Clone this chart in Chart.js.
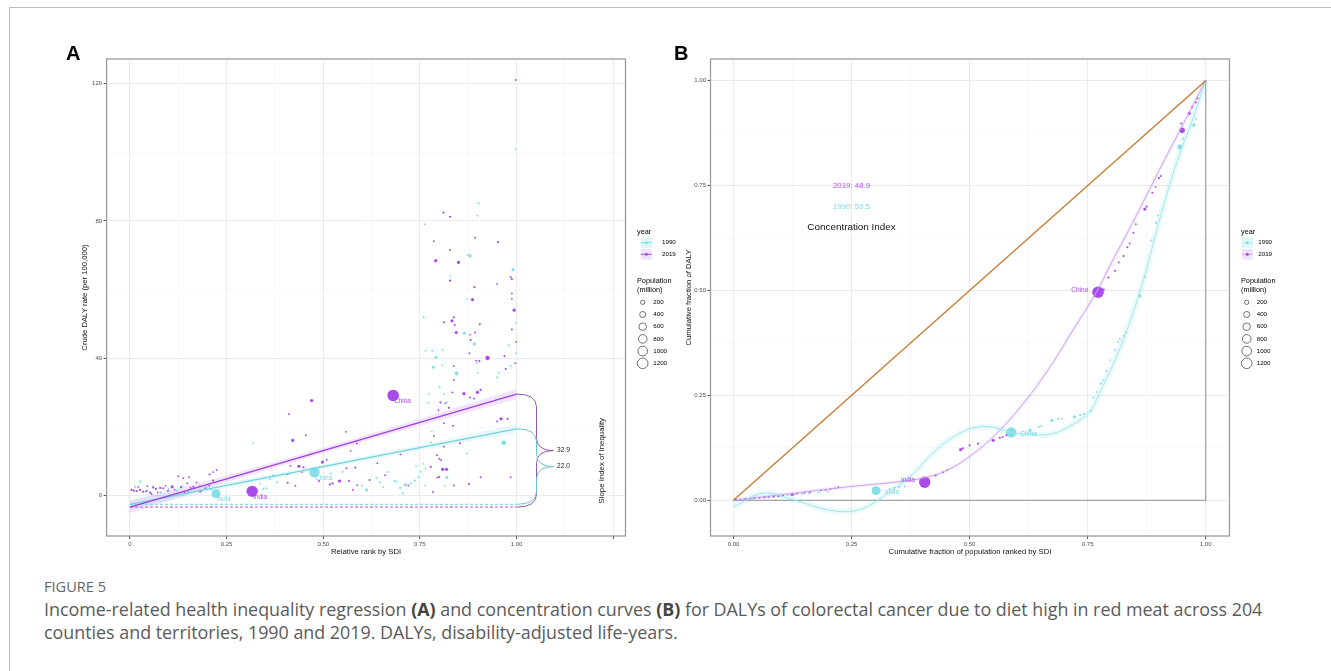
<!DOCTYPE html>
<html>
<head>
<meta charset="utf-8">
<script src="https://cdn.jsdelivr.net/npm/chart.js@4.4.1/dist/chart.umd.min.js"></script>
<style>
html,body{margin:0;padding:0;background:#fff;width:1331px;height:671px;overflow:hidden;}
#frame{position:absolute;left:9px;top:7px;width:1340px;height:700px;border-left:1.5px solid #bdbdbd;border-top:1.5px solid #bdbdbd;}
#cA{position:absolute;left:0;top:0;}
#cB{position:absolute;left:660px;top:0;}
#fig{position:absolute;left:44px;top:577px;font-family:"Open Sans",sans-serif;font-size:14px;line-height:19px;color:#666;white-space:nowrap;}
#cap{position:absolute;left:44px;top:598px;font-family:"Open Sans",sans-serif;font-size:17px;line-height:23px;color:#5a5a5a;white-space:nowrap;}
#cap b{color:#444;font-weight:700;}
</style>
</head>
<body>
<div id="frame"></div>
<canvas id="cA" width="700" height="570"></canvas>
<canvas id="cB" width="671" height="570"></canvas>
<div id="fig"><span id="figt">FIGURE 5</span></div>
<div id="cap"><span id="cap1">Income-related health inequality regression <b>(A)</b> and concentration curves <b>(B)</b> for DALYs of colorectal cancer due to diet high in red meat across 204</span><br><span>counties and territories, 1990 and 2019. DALYs, disability-adjusted life-years.</span></div>
<script>
// ================= DATA =================
const yearLabels = ['1990', '2019'];
const popLegend = [200, 400, 600, 800, 1000, 1200];

// ---- Panel A: [relative rank by SDI, crude DALY rate per 100,000, population (million), label]
const a2019 = [
 [0.004,1.7,50],[0.010,1.5,50],[0.017,1.4,50],[0.021,2.6,8],[0.026,1.7,50],[0.034,1.2,50],[0.043,1.4,50],[0.045,2.8,8],
 [0.052,0.9,50],[0.056,0.5,8],[0.060,2.4,50],[0.067,2.0,50],[0.072,1.0,8],[0.078,2.3,50],[0.086,2.2,50],[0.092,2.9,8],
 [0.098,1.4,50],[0.109,2.6,110],[0.115,1.8,8],[0.125,5.7,8],[0.132,2.5,50],[0.138,5.1,8],[0.141,1.0,50],[0.148,3.6,8],
 [0.153,5.4,8],[0.157,2.3,8],[0.164,2.6,50],[0.172,3.9,8],[0.182,1.4,110],[0.195,2.2,8],[0.205,2.9,8],[0.206,6.2,50],
 [0.215,4.4,50],[0.215,6.9,8],[0.224,7.5,8],
 [0.316,1.3,1380,'India'],
 [0.408,6.3,8],[0.408,3.8,50],[0.411,23.8,8],[0.415,8.7,8],[0.421,16.1,110],[0.428,2.9,8],[0.437,8.6,110],[0.445,6.9,8],
 [0.449,8.3,50],[0.455,17.6,8],[0.470,27.7,110],[0.489,4.3,50],[0.498,9.8,110],[0.509,10.5,8],[0.517,3.3,50],[0.524,3.6,50],
 [0.542,4.3,110],[0.559,18.6,8],[0.560,8.0,8],[0.567,4.3,50],[0.571,13.0,8],[0.577,1.7,8],[0.583,8.2,50],[0.587,15.2,8],
 [0.588,3.1,8],[0.620,4.6,50],[0.640,9.5,8],[0.660,6.0,8],
 [0.681,29.2,1430,'China'],
 [0.700,12.0,8],[0.720,3.0,8],
 [0.778,8.4,50],[0.784,1.1,8],[0.786,17.4,8],[0.786,74.1,8],[0.791,68.4,110],[0.794,11.8,8],[0.795,5.3,8],[0.798,24.9,8],
 [0.800,10.8,8],[0.800,5.5,50],[0.803,27.2,50],[0.805,10.4,8],[0.809,7.7,110],[0.811,82.4,50],[0.812,50.5,50],[0.812,21.1,8],
 [0.812,14.3,8],[0.816,26.9,8],[0.819,7.7,110],[0.825,25.6,50],[0.828,81.2,50],[0.828,71.5,8],[0.828,62.6,50],[0.833,50.9,110],
 [0.834,30.1,8],[0.836,20.4,8],[0.838,51.9,50],[0.838,37.8,8],[0.838,33.7,8],[0.838,3.0,8],[0.840,49.7,8],[0.844,47.5,110],
 [0.850,67.9,110],[0.854,15.3,50],[0.864,29.7,110],[0.877,3.4,50],[0.878,41.5,8],[0.880,46.9,8],[0.880,28.6,8],[0.881,45.3,50],
 [0.886,57.1,110],[0.890,28.3,8],[0.891,60.7,50],[0.893,75.1,8],[0.893,47.5,8],[0.896,39.3,8],[0.899,30.1,110],[0.904,39.2,50],
 [0.905,49.9,50],[0.907,30.8,50],[0.907,5.4,8],[0.925,40.1,200],[0.950,61.6,8],[0.950,21.6,8],[0.952,73.8,50],[0.960,22.4,110],
 [0.969,40.6,50],[0.972,36.9,50],[0.977,22.4,50],[0.985,63.6,50],[0.985,5.4,8],[0.988,63.0,50],[0.988,58.9,8],[0.988,57.3,8],
 [0.988,48.4,8],[0.994,54.0,110],[0.997,38.6,8],[0.998,121.0,8],[0.999,44.8,8]
];
const a1990 = [
 [0.013,2.6,50],[0.026,4.1,50],[0.040,1.2,50],[0.060,2.8,8],[0.080,1.0,50],[0.100,2.0,50],[0.120,1.5,8],[0.135,2.8,8],
 [0.150,1.2,50],[0.168,2.3,8],[0.180,3.0,8],[0.198,2.6,8],[0.210,1.8,50],
 [0.2225,0.6,870,'India'],
 [0.319,15.3,8],[0.330,1.6,8],[0.336,3.5,8],[0.345,2.0,50],[0.353,2.2,50],[0.362,4.9,8],[0.370,6.0,8],[0.380,4.0,8],
 [0.477,6.9,1150,'China'],
 [0.490,8.5,8],[0.520,6.5,8],[0.550,7.0,8],[0.600,3.0,8],[0.612,1.7,110],[0.638,5.1,50],[0.646,3.9,50],[0.655,2.5,8],
 [0.667,6.9,50],[0.684,4.3,50],[0.690,4.1,50],[0.699,2.3,50],[0.706,0.7,50],[0.712,3.2,110],[0.726,3.6,50],[0.737,4.4,50],
 [0.740,8.7,8],[0.747,5.5,50],[0.752,7.0,50],[0.759,9.3,8],[0.760,51.9,50],[0.763,79.0,50],[0.763,3.0,8],[0.765,42.2,50],
 [0.765,7.9,8],[0.772,27.0,8],[0.774,29.6,8],[0.779,15.5,8],[0.781,18.7,8],[0.782,42.2,50],[0.785,37.4,110],[0.792,40.3,110],
 [0.801,31.6,50],[0.808,38.0,8],[0.809,42.5,8],[0.813,29.7,8],[0.815,2.9,8],[0.820,27.2,8],[0.820,5.4,110],[0.829,64.0,8],
 [0.845,35.6,150],[0.865,47.3,110],[0.872,57.3,8],[0.872,12.3,8],[0.874,70.1,50],[0.880,69.8,110],[0.891,44.2,110],[0.898,38.5,50],
 [0.899,81.5,50],[0.900,35.8,8],[0.902,85.1,50],[0.950,34.4,50],[0.954,35.8,50],[0.967,15.4,250],[0.980,43.8,50],[0.985,37.8,8],
 [0.991,65.8,110],[0.998,101.0,8],[0.999,50.4,8],[0.999,41.5,8]
];
// regression lines and confidence bands (rank -> rate)
const siiX = [0, 0.25, 0.5, 0.75, 1];
const sii2019 = [-3.3, 4.93, 13.15, 21.38, 29.6];
const sii2019Hi = [-1.5, 5.9, 13.95, 22.4, 31.1];
const sii2019Lo = [-5.1, 3.9, 12.35, 20.4, 28.1];
const sii1990 = [-2.5, 3.0, 8.5, 14.0, 19.5];
const sii1990Hi = [-1.1, 3.8, 9.1, 14.8, 20.8];
const sii1990Lo = [-3.9, 2.2, 7.9, 13.2, 18.2];
const siiValues = ['22.0', '32.9'];   // 1990, 2019

// axes A
const aXMajor = [0, 0.25, 0.5, 0.75, 1.0, 1.25];
const aXLabels = ['0', '0.25', '0.50', '0.75', '1.00', ''];
const aXMinor = [0.125, 0.375, 0.625, 0.875, 1.125];
const aYMajor = [0, 40, 80, 120];
const aYLabels = ['0', '40', '80', '120'];
const aYMinor = [20, 60, 100];

// ---- Panel B: [cumulative fraction of population, cumulative fraction of DALY, population (million), label]
const b2019 = [
 [0.005,0.001,8],[0.015,0.002,8],[0.025,0.003,8],[0.035,0.004,8],[0.045,0.006,50],[0.055,0.006,8],[0.065,0.007,50],
 [0.075,0.008,8],[0.085,0.009,50],[0.095,0.010,8],[0.105,0.011,8],[0.124,0.014,110],[0.135,0.016,8],[0.150,0.018,50],
 [0.162,0.020,8],[0.185,0.024,50],[0.195,0.025,50],[0.205,0.027,8],[0.215,0.029,8],[0.222,0.031,8],
 [0.405,0.043,1380,'India'],
 [0.428,0.059,50],[0.444,0.067,50],[0.453,0.072,8],[0.481,0.121,110],[0.486,0.124,50],[0.500,0.131,50],[0.518,0.135,50],
 [0.550,0.143,110],[0.564,0.149,50],[0.570,0.151,8],[0.578,0.155,50],
 [0.772,0.496,1430,'China'],
 [0.784,0.502,50],[0.794,0.531,50],[0.808,0.547,50],[0.816,0.567,8],[0.826,0.582,50],[0.834,0.603,50],[0.839,0.612,8],
 [0.847,0.637,50],[0.852,0.658,8],[0.871,0.694,110],[0.875,0.700,50],[0.887,0.733,50],[0.894,0.747,8],[0.901,0.768,50],
 [0.905,0.773,8],[0.948,0.898,8],[0.950,0.882,330],[0.965,0.922,110],[0.971,0.937,50],[0.979,0.948,50],[0.983,0.958,8],
 [0.999,0.998,50]
];
const b1990 = [
 [0.010,0.001,8],[0.025,0.003,8],[0.040,0.004,50],[0.055,0.006,8],[0.070,0.008,50],[0.085,0.009,8],[0.100,0.011,50],
 [0.115,0.012,8],[0.130,0.014,50],[0.145,0.015,8],[0.160,0.017,8],[0.180,0.019,8],[0.200,0.021,8],
 [0.302,0.023,870,'India'],
 [0.331,0.027,50],[0.341,0.030,50],[0.351,0.032,50],[0.363,0.033,8],
 [0.588,0.162,1150,'China'],
 [0.628,0.167,110],[0.646,0.175,50],[0.652,0.177,8],[0.674,0.190,110],[0.688,0.194,50],[0.695,0.195,8],[0.722,0.199,110],
 [0.734,0.203,50],[0.742,0.206,50],[0.756,0.213,50],[0.762,0.245,50],[0.770,0.258,8],[0.778,0.278,50],[0.782,0.286,8],
 [0.790,0.308,50],[0.798,0.334,8],[0.808,0.358,50],[0.814,0.378,8],[0.818,0.384,8],[0.826,0.392,8],[0.832,0.400,8],
 [0.860,0.487,110],[0.871,0.533,50],[0.885,0.619,50],[0.895,0.661,50],[0.899,0.679,8],[0.945,0.842,250],[0.952,0.862,50],
 [0.975,0.894,110],[0.980,0.910,8],[1.000,1.000,8]
];
// smoothed concentration curves
const curve2019X = [0,0.128,0.25,0.347,0.412,0.46,0.509,0.557,0.614,0.671,0.719,0.768,0.8,0.85,0.9,0.95,1.0];
const curve2019Y = [0,0.017,0.033,0.044,0.056,0.076,0.112,0.159,0.231,0.319,0.406,0.495,0.565,0.672,0.783,0.892,1.0];
const curve1990X = [0,0.063,0.128,0.185,0.234,0.275,0.332,0.381,0.429,0.478,0.519,0.559,0.59,0.624,0.673,0.722,0.754,0.778,0.811,0.843,0.872,0.9,0.94,0.97,1.0];
const curve1990Y = [-0.016,0.017,0.001,-0.019,-0.027,-0.019,0.021,0.064,0.120,0.159,0.175,0.172,0.161,0.158,0.158,0.183,0.211,0.263,0.342,0.437,0.54,0.66,0.81,0.90,1.0];
const equalityX = [0, 1];
const equalityY = [0, 1];
const frameX = [0, 1, 1];
const frameY = [0, 0, 1];
const ciValues = ['1990: 59.5', '2019: 48.9'];
const ciTitle = 'Concentration Index';
const ciPosX = 0.25;
const ciPosY = [0.70, 0.75, 0.65];   // 1990 text, 2019 text, title

// axes B
const bMajor = [0, 0.25, 0.5, 0.75, 1.0];
const bLabels = ['0.00', '0.25', '0.50', '0.75', '1.00'];
const bMinor = [0.125, 0.375, 0.625, 0.875];

// ================= STYLE / HELPERS =================
const PURPLE = '#A94BEB', CYAN = '#84DFE8';
const FONT = '"Liberation Sans", Arial, Helvetica, sans-serif';
const RAD = p => Math.max(0.95, 0.153 * Math.sqrt(p));

const pts = arr => arr.map(d => ({x: d[0], y: d[1], pop: d[2], name: d[3]}));
const xy = (xs, ys) => xs.map((x, i) => ({x, y: ys[i]}));

function axis(pos, min, max, majors, labels, minors, size) {
  const all = majors.map(v => ({value: v, major: true})).concat(minors.map(v => ({value: v, major: false})))
    .sort((a, b) => a.value - b.value);
  return {
    type: 'linear', position: pos, min, max,
    afterBuildTicks: s => { s.ticks = all.map(t => ({value: t.value, major: t.major})); },
    afterFit: s => { if (pos === 'left') s.width = size; else s.height = size; },
    ticks: {
      autoSkip: false, maxRotation: 0, minRotation: 0, padding: 1.5,
      font: {family: FONT, size: 6}, color: '#4D4D4D',
      callback: v => { const k = majors.indexOf(v); return k >= 0 ? labels[k] : ''; }
    },
    grid: {
      color: c => (c.tick && c.tick.major) ? '#EBEBEB' : '#F5F5F5',
      lineWidth: c => (c.tick && c.tick.major) ? 1 : 0.7,
      tickColor: c => (c.tick && c.tick.major) ? '#555' : 'rgba(0,0,0,0)',
      tickLength: 3, drawTicks: true
    },
    border: {display: false}
  };
}

function text(ctx, s, x, y, o) {
  ctx.save();
  ctx.font = (o.weight || 'normal') + ' ' + o.size + 'px ' + FONT;
  ctx.fillStyle = o.color || '#000';
  ctx.textAlign = o.align || 'left';
  ctx.textBaseline = o.base || 'middle';
  if (o.rot) { ctx.translate(x, y); ctx.rotate(o.rot); ctx.fillText(s, 0, 0); }
  else ctx.fillText(s, x, y);
  ctx.restore();
}

function box(chart) {
  const {ctx, chartArea: a} = chart;
  ctx.save();
  ctx.strokeStyle = '#9C9C9C'; ctx.lineWidth = 1.3;
  ctx.strokeRect(a.left, a.top, a.right - a.left, a.bottom - a.top);
  ctx.restore();
}

function legend(ctx, L) {
  text(ctx, 'year', L.x, 232, {size: 7.3});
  const keys = [[yearLabels[0], CYAN, 'rgba(132,223,232,0.28)', 242.7], [yearLabels[1], PURPLE, 'rgba(169,75,235,0.16)', 254.3]];
  keys.forEach(([lab, col, bg, y]) => {
    ctx.save();
    ctx.fillStyle = bg; ctx.fillRect(L.kx - 5.5, y - 5.3, 11, 10.6);
    ctx.strokeStyle = col; ctx.globalAlpha = L.lineAlpha; ctx.lineWidth = 1;
    ctx.beginPath(); ctx.moveTo(L.kx - 5.5, y); ctx.lineTo(L.kx + 5.5, y); ctx.stroke();
    ctx.globalAlpha = 1; ctx.fillStyle = col;
    ctx.beginPath(); ctx.arc(L.kx, y, 1.5, 0, 2 * Math.PI); ctx.fill();
    ctx.restore();
    text(ctx, lab, L.lx, y, {size: 6.2});
  });
  text(ctx, 'Population', L.x, 280.7, {size: 7.3});
  text(ctx, '(million)', L.x, 289.5, {size: 7.3});
  popLegend.forEach((p, i) => {
    const y = 302.3 + i * 12.2;
    ctx.save(); ctx.strokeStyle = '#333'; ctx.lineWidth = 0.7;
    ctx.beginPath(); ctx.arc(L.cx, y, RAD(p), 0, 2 * Math.PI); ctx.stroke(); ctx.restore();
    text(ctx, String(p), L.clx, y, {size: 6.2});
  });
}

function brace(ctx, x0, yT, yB, color) {
  const xv = x0 + 20, xt = x0 + 37, yM = (yT + yB) / 2, r = Math.min(13, (yB - yT) / 4);
  ctx.save(); ctx.strokeStyle = color; ctx.lineWidth = 1;
  ctx.beginPath();
  ctx.moveTo(x0, yT);
  ctx.quadraticCurveTo(xv, yT, xv, yT + r);
  ctx.lineTo(xv, yM - r);
  ctx.quadraticCurveTo(xv, yM, xt, yM);
  ctx.quadraticCurveTo(xv, yM, xv, yM + r);
  ctx.lineTo(xv, yB - r);
  ctx.quadraticCurveTo(xv, yB, x0, yB);
  ctx.stroke(); ctx.restore();
  return yM;
}

function scatterDs(arr, color, order) {
  return {type: 'scatter', data: pts(arr), backgroundColor: color, borderWidth: 0,
    pointRadius: c => RAD(c.raw.pop), pointHoverRadius: c => RAD(c.raw.pop), order};
}
function lineDs(data, color, width, order, extra) {
  return Object.assign({type: 'line', data, borderColor: color, backgroundColor: color, borderWidth: width,
    pointRadius: 0, pointHoverRadius: 0, fill: false, tension: 0, order}, extra || {});
}

const common = {
  responsive: false, animation: false, devicePixelRatio: 1,
  plugins: {legend: {display: false}, tooltip: {enabled: false}},
  events: []
};

// ================= CHART A =================
new Chart(document.getElementById('cA'), {
  type: 'scatter',
  data: {datasets: [
    lineDs(xy(siiX, sii2019Hi), 'rgba(0,0,0,0)', 0, 4, {fill: '+1', backgroundColor: 'rgba(180,110,235,0.18)'}),
    lineDs(xy(siiX, sii2019Lo), 'rgba(0,0,0,0)', 0, 4),
    lineDs(xy(siiX, sii1990Hi), 'rgba(0,0,0,0)', 0, 4, {fill: '+1', backgroundColor: 'rgba(132,223,232,0.18)'}),
    lineDs(xy(siiX, sii1990Lo), 'rgba(0,0,0,0)', 0, 4),
    lineDs(xy(siiX, sii2019), '#A03EE0', 1.3, 1),
    lineDs(xy(siiX, sii1990), '#6FD3DD', 1.3, 1),
    lineDs([{x: siiX[0], y: sii2019[0]}, {x: siiX[4], y: sii2019[0]}], '#B77AE8', 1.2, 2, {borderDash: [3, 2]}),
    lineDs([{x: siiX[0], y: sii1990[0]}, {x: siiX[4], y: sii1990[0]}], '#8FDCE4', 1.2, 2, {borderDash: [3, 2]}),
    scatterDs(a2019, PURPLE, 5),
    scatterDs(a1990, CYAN, 6)
  ]},
  options: Object.assign({}, common, {
    layout: {padding: {left: 76.6, right: 74.5, top: 59, bottom: 14}},
    scales: {
      x: axis('bottom', -0.0605, 1.282, aXMajor, aXLabels, aXMinor, 20),
      y: axis('left', -11.7, 127.1, aYMajor, aYLabels, aYMinor, 30)
    }
  }),
  plugins: [{
    id: 'decorA',
    afterDatasetsDraw(chart) {
      const {ctx, chartArea: a, scales: {x, y}} = chart;
      box(chart);
      [[a2019, PURPLE], [a1990, '#7ED8E2']].forEach(([arr, col]) => arr.forEach(d => {
        if (d[3]) text(ctx, d[3], x.getPixelForValue(d[0]) + 1, y.getPixelForValue(d[1]) + 6, {size: 6.4, color: col});
      }));
      const x0 = x.getPixelForValue(siiX[4]);
      const m19 = brace(ctx, x0, y.getPixelForValue(sii2019[4]), y.getPixelForValue(sii2019[0]), '#8E5BA6');
      const m90 = brace(ctx, x0, y.getPixelForValue(sii1990[4]), y.getPixelForValue(sii1990[0]), '#6EC4CD');
      text(ctx, siiValues[1], x0 + 40.5, m19, {size: 6.6, color: '#222'});
      text(ctx, siiValues[0], x0 + 40.5, m90, {size: 6.6, color: '#222'});
      text(ctx, 'Slope Index of Inequality', 601.7, 460.7, {size: 7.8, align: 'center', rot: -Math.PI / 2, color: '#111'});
      text(ctx, 'A', 66, 60, {size: 20, weight: 'bold', base: 'alphabetic'});
      text(ctx, 'Crude DALY rate (per 100,000)', 84.5, (a.top + a.bottom) / 2, {size: 7.7, align: 'center', rot: -Math.PI / 2, color: '#111'});
      text(ctx, 'Relative rank by SDI', (a.left + a.right) / 2, 551.7, {size: 7.7, align: 'center', color: '#111'});
      legend(ctx, {x: 637, kx: 646.3, lx: 662, cx: 642.7, clx: 653.3, lineAlpha: 1});
    }
  }]
});

// ================= CHART B =================
new Chart(document.getElementById('cB'), {
  type: 'scatter',
  data: {datasets: [
    lineDs(xy(frameX, frameY), '#A3A3A3', 1.3, 8),
    lineDs(xy(equalityX, equalityY), '#C87D33', 1.4, 1),
    lineDs(xy(curve1990X, curve1990Y), 'rgba(132,223,232,0.16)', 6, 7, {tension: 0.4}),
    lineDs(xy(curve2019X, curve2019Y), 'rgba(185,120,235,0.12)', 3.5, 7, {tension: 0.4}),
    lineDs(xy(curve1990X, curve1990Y), '#A3E4EC', 1, 3, {tension: 0.4}),
    lineDs(xy(curve2019X, curve2019Y), '#CFA2EE', 1, 3, {tension: 0.4}),
    scatterDs(b2019, PURPLE, 4),
    scatterDs(b1990, CYAN, 5)
  ]},
  options: Object.assign({}, common, {
    layout: {padding: {left: 20.5, right: 101.5, top: 59, bottom: 14}},
    scales: {
      x: axis('bottom', -0.0487, 1.0504, bMajor, bLabels, bMinor, 20),
      y: axis('left', -0.085, 1.0517, bMajor, bLabels, bMinor, 30)
    }
  }),
  plugins: [{
    id: 'decorB',
    afterDatasetsDraw(chart) {
      const {ctx, chartArea: a, scales: {x, y}} = chart;
      box(chart);
      b2019.forEach(d => {
        if (d[3]) text(ctx, d[3], x.getPixelForValue(d[0]) - 10, y.getPixelForValue(d[1]) - 2, {size: 6.4, color: PURPLE, align: 'right'});
      });
      b1990.forEach(d => {
        if (d[3]) text(ctx, d[3], x.getPixelForValue(d[0]) + 9, y.getPixelForValue(d[1]) + 1.5, {size: 6.4, color: '#7ED8E2'});
      });
      const cx = x.getPixelForValue(ciPosX);
      text(ctx, ciValues[1], cx, y.getPixelForValue(ciPosY[1]), {size: 7.9, align: 'center', color: '#B04FEA'});
      text(ctx, ciValues[0], cx, y.getPixelForValue(ciPosY[0]), {size: 7.9, align: 'center', color: '#7ED8E2'});
      text(ctx, ciTitle, cx, y.getPixelForValue(ciPosY[2]), {size: 9.9, align: 'center', color: '#111'});
      text(ctx, 'B', 14, 60, {size: 20, weight: 'bold', base: 'alphabetic'});
      text(ctx, 'Cumulative fraction of DALY', 28.7, (a.top + a.bottom) / 2, {size: 7.7, align: 'center', rot: -Math.PI / 2, color: '#111'});
      text(ctx, 'Cumulative fraction of population ranked by SDI', (a.left + a.right) / 2, 551.7, {size: 7.7, align: 'center', color: '#111'});
      legend(ctx, {x: 581, kx: 587.3, lx: 598.3, cx: 586.7, clx: 596.7, lineAlpha: 0.35});
    }
  }]
});

// caption sizing
(function fitCaption() {
  const cap = document.getElementById('cap'), c1 = document.getElementById('cap1');
  const w = c1.getBoundingClientRect().width;
  if (w > 0) cap.style.fontSize = (17 * 1219 / w).toFixed(2) + 'px';
  const fig = document.getElementById('fig'), ft = document.getElementById('figt');
  const wf = ft.getBoundingClientRect().width;
  if (wf > 0) fig.style.fontSize = (14 * 62 / wf).toFixed(2) + 'px';
})();
</script>
</body>
</html>
